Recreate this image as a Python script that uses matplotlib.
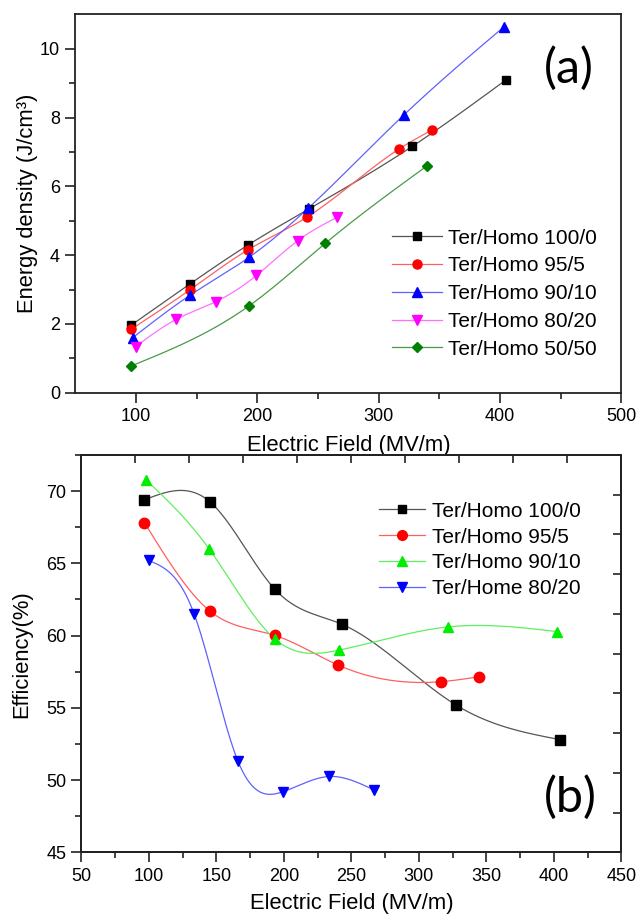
import numpy as np
import matplotlib
matplotlib.use("Agg")
import matplotlib.pyplot as plt
from matplotlib.ticker import MultipleLocator, FixedLocator, NullFormatter

plt.rcParams['font.family'] = ['Liberation Sans', 'DejaVu Sans']

# ---------------- panel (a): energy density ----------------
labels_a = ["Ter/Homo 100/0", "Ter/Homo 95/5", "Ter/Homo 90/10",
            "Ter/Homo 80/20", "Ter/Homo 50/50"]
field_a_100_0 = [96.3, 144.8, 192.6, 242.4, 327.6, 404.7]
energy_100_0 = [1.97, 3.17, 4.30, 5.34, 7.16, 9.09]
field_a_95_5 = [96.3, 144.8, 192.6, 240.7, 316.5, 344.0]
energy_95_5 = [1.85, 3.00, 4.16, 5.10, 7.08, 7.64]
field_a_90_10 = [97.3, 144.8, 193.3, 241.8, 320.9, 403.0]
energy_90_10 = [1.60, 2.84, 3.94, 5.36, 8.08, 10.63]
field_a_80_20 = [99.7, 133.0, 166.0, 199.3, 233.3, 265.7]
energy_80_20 = [1.34, 2.13, 2.65, 3.41, 4.42, 5.10]
field_a_50_50 = [96.3, 193.0, 255.9, 340.0]
energy_50_50 = [0.78, 2.52, 4.34, 6.60]

# ---------------- panel (b): efficiency ----------------
labels_b = ["Ter/Homo 100/0", "Ter/Homo 95/5", "Ter/Homo 90/10", "Ter/Home 80/20"]
field_b_100_0 = [96.7, 145.0, 193.2, 242.9, 327.6, 404.5]
eff_100_0 = [69.40, 69.28, 63.22, 60.79, 55.19, 52.80]
field_b_95_5 = [96.7, 145.3, 193.2, 240.2, 316.2, 344.2]
eff_95_5 = [67.82, 61.69, 60.02, 57.96, 56.81, 57.15]
field_b_90_10 = [97.6, 144.6, 193.5, 241.1, 321.3, 402.4]
eff_90_10 = [70.80, 66.00, 59.75, 59.00, 60.60, 60.28]
field_b_80_20 = [100.0, 133.5, 166.0, 199.5, 233.6, 266.4]
eff_80_20 = [65.20, 61.50, 51.30, 49.20, 50.25, 49.33]


def natural_spline(x, y, n=300):
    """Smooth curve through the points using a natural cubic spline."""
    x = np.asarray(x, float)
    y = np.asarray(y, float)
    m = len(x)
    h = np.diff(x)
    A = np.zeros((m, m))
    b = np.zeros(m)
    A[0, 0] = A[-1, -1] = 1.0
    for i in range(1, m - 1):
        A[i, i - 1] = h[i - 1]
        A[i, i] = 2 * (h[i - 1] + h[i])
        A[i, i + 1] = h[i]
        b[i] = 6 * ((y[i + 1] - y[i]) / h[i] - (y[i] - y[i - 1]) / h[i - 1])
    M = np.linalg.solve(A, b)
    xs = np.linspace(x[0], x[-1], n)
    k = np.clip(np.searchsorted(x, xs) - 1, 0, m - 2)
    x0, x1 = x[k], x[k + 1]
    hk = h[k]
    ys = (M[k] * (x1 - xs) ** 3 / (6 * hk) + M[k + 1] * (xs - x0) ** 3 / (6 * hk)
          + (y[k] / hk - M[k] * hk / 6) * (x1 - xs)
          + (y[k + 1] / hk - M[k + 1] * hk / 6) * (xs - x0))
    return xs, ys


fig = plt.figure(figsize=(6.38, 9.15), dpi=100)

TICK_FS = 13
LABEL_FS = 15.8
LEG_FS = 15
SPINE_C = "#222222"

# ---------------- panel (a) ----------------
ax1 = fig.add_axes([0.118, 0.5708, 0.856, 0.4135])
series_a = [
    (field_a_100_0, energy_100_0, "black", "s", 5.5),
    (field_a_95_5, energy_95_5, "#ff0000", "o", 6.5),
    (field_a_90_10, energy_90_10, "#0000ff", "^", 6.5),
    (field_a_80_20, energy_80_20, "#ff00ff", "v", 6.5),
    (field_a_50_50, energy_50_50, "#008000", "D", 5.5),
]
line_colors_a = ["#555555", "#ff6060", "#6060ff", "#ff70ff", "#4a9a4a"]
for (xv, yv, c, mk, ms), lc, lab in zip(series_a, line_colors_a, labels_a):
    xs, ys = natural_spline(xv, yv)
    ax1.plot(xs, ys, color=lc, lw=0.9, zorder=2)
    ax1.plot(xv, yv, ls="none", marker=mk, ms=ms, color=c, mec=c, zorder=3)
    ax1.plot([], [], color=lc, lw=0.9, marker=mk, ms=ms, mfc=c, mec=c, label=lab)

ax1.set_xlim(50, 500)
ax1.set_ylim(0, 11)
ax1.xaxis.set_major_locator(FixedLocator([100, 200, 300, 400, 500]))
ax1.xaxis.set_minor_locator(FixedLocator([150, 250, 350, 450]))
ax1.yaxis.set_major_locator(FixedLocator([0, 2, 4, 6, 8, 10]))
ax1.yaxis.set_minor_locator(FixedLocator([1, 3, 5, 7, 9]))
ax1.tick_params(which="major", direction="out", length=7, width=1.2,
                labelsize=TICK_FS, pad=4, color=SPINE_C)
ax1.tick_params(which="minor", direction="out", length=4, width=1.2, color=SPINE_C)
for sp in ax1.spines.values():
    sp.set_linewidth(1.3)
    sp.set_color(SPINE_C)
ax1.set_xlabel("Electric Field (MV/m)", fontsize=LABEL_FS, labelpad=7)
ax1.set_ylabel("Energy density (J/cm³)", fontsize=LABEL_FS, labelpad=1)
ax1.text(0.903, 0.857, "(a)", transform=ax1.transAxes, fontsize=35,
         family=["Lato", "DejaVu Sans"], ha="center", va="center")
ax1.legend(loc="center left", bbox_to_anchor=(0.580, 0.262), frameon=False,
           fontsize=LEG_FS, borderpad=0, borderaxespad=0, handlelength=2.4,
           handletextpad=0.3, labelspacing=0.42)

# ---------------- panel (b) ----------------
ax2 = fig.add_axes([0.1276, 0.0685, 0.8464, 0.4342])
series_b = [
    (field_b_100_0, eff_100_0, "black", "s", 6.5),
    (field_b_95_5, eff_95_5, "#ff0000", "o", 7.5),
    (field_b_90_10, eff_90_10, "#00ee00", "^", 7.5),
    (field_b_80_20, eff_80_20, "#0000ff", "v", 7.5),
]
line_colors_b = ["#555555", "#ff6060", "#60ee60", "#6060ff"]
for (xv, yv, c, mk, ms), lc, lab in zip(series_b, line_colors_b, labels_b):
    xs, ys = natural_spline(xv, yv)
    ax2.plot(xs, ys, color=lc, lw=0.9, zorder=2)
    ax2.plot(xv, yv, ls="none", marker=mk, ms=ms, color=c, mec=c, zorder=3)
    ax2.plot([], [], color=lc, lw=0.9, marker=mk, ms=ms - 0.5, mfc=c, mec=c, label=lab)

ax2.set_xlim(50, 450)
ax2.set_ylim(45, 72.5)
ax2.xaxis.set_major_locator(MultipleLocator(50))
ax2.xaxis.set_minor_locator(MultipleLocator(25))
ax2.yaxis.set_major_locator(FixedLocator([45, 50, 55, 60, 65, 70]))
ax2.yaxis.set_minor_locator(FixedLocator([47.5, 52.5, 57.5, 62.5, 67.5, 72.5]))
ax2.tick_params(which="major", direction="out", length=7, width=1.2,
                labelsize=TICK_FS, pad=4, color=SPINE_C)
ax2.tick_params(which="minor", direction="out", length=4, width=1.2, color=SPINE_C)
for sp in ax2.spines.values():
    sp.set_linewidth(1.3)
    sp.set_color(SPINE_C)
ax2.set_xlabel("Electric Field (MV/m)", fontsize=LABEL_FS, labelpad=6)
ax2.set_ylabel("Efficiency(%)", fontsize=LABEL_FS, labelpad=10)
ax2.text(0.905, 0.138, "(b)", transform=ax2.transAxes, fontsize=35,
         family=["Lato", "DejaVu Sans"], ha="center", va="center")
ax2.legend(loc="center left", bbox_to_anchor=(0.552, 0.761), frameon=False,
           fontsize=LEG_FS, borderpad=0, borderaxespad=0, handlelength=2.2,
           handletextpad=0.3, labelspacing=0.33)

# inward ticks on the top and right frame of panel (b)
top = ax2.twiny()
top.set_xlim(0, 10)
top.xaxis.set_major_locator(FixedLocator(range(1, 10)))
top.xaxis.set_major_formatter(NullFormatter())
top.tick_params(axis="x", direction="in", length=6, width=1.2, color=SPINE_C)
right = ax2.twinx()
right.set_ylim(0, 10)
right.yaxis.set_major_locator(FixedLocator(range(1, 10)))
right.yaxis.set_major_formatter(NullFormatter())
right.tick_params(axis="y", direction="in", length=6, width=1.2, color=SPINE_C)
for a in (top, right):
    for sp in a.spines.values():
        sp.set_linewidth(1.3)
        sp.set_color(SPINE_C)

fig.savefig("out.png", dpi=100)
